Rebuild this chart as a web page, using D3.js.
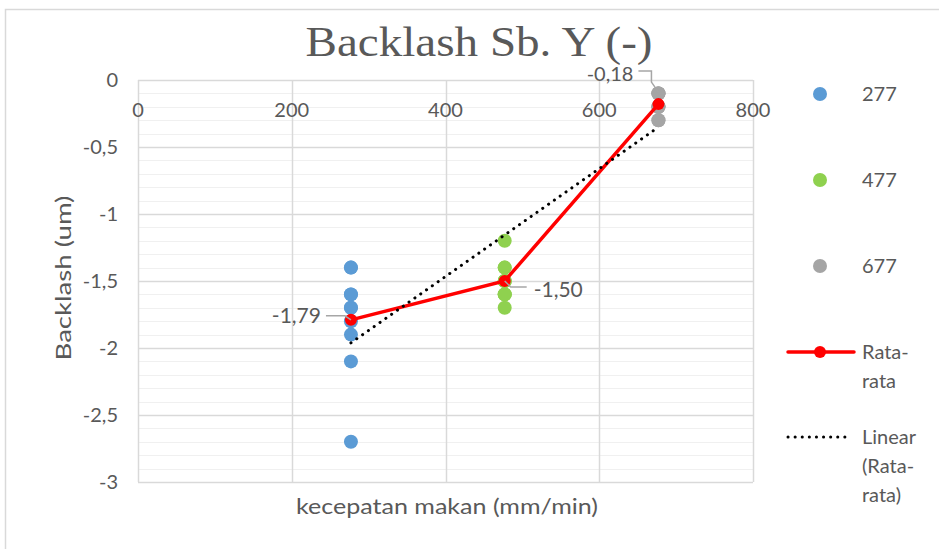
<!DOCTYPE html>
<html>
<head>
<meta charset="utf-8">
<script src="https://cdn.jsdelivr.net/npm/d3@7"></script>
<style>
  html, body { margin: 0; padding: 0; background: #fff; }
  svg { display: block; }
  text { font-family: Lato, "Open Sans", sans-serif; fill: #595959; }
  text.title { font-family: "Liberation Serif", "DejaVu Serif", serif; }
</style>
</head>
<body>
<svg id="chart" width="939" height="549"></svg>
<script>
// Feed rate groups (mm/min) and the measured backlash readings (um) at each
const speeds = [277, 477, 677];
const series277 = [-1.4, -1.4, -1.6, -1.6, -1.7, -1.7, -1.8, -1.9, -2.1, -2.7];
const series477 = [-1.2, -1.4, -1.4, -1.5, -1.5, -1.5, -1.6, -1.6, -1.6, -1.7];
const series677 = [-0.1, -0.1, -0.1, -0.1, -0.2, -0.2, -0.2, -0.2, -0.3, -0.3];
const average = [-1.79, -1.50, -0.18];
const averageLabels = ["-1,79", "-1,50", "-0,18"];
const xTicks = [0, 200, 400, 600, 800];
const yTicks = [0, -0.5, -1, -1.5, -2, -2.5, -3];
const yTickLabels = ["0", "-0,5", "-1", "-1,5", "-2", "-2,5", "-3"];
const seriesNames = ["277", "477", "677"];
const seriesColors = ["#5b9bd5", "#8fd14f", "#a5a5a5"];

const svg = d3.select("#chart");

// Outer chart frame
svg.append("rect").attr("x", 5.5).attr("y", 9.5).attr("width", 960).attr("height", 600)
  .attr("fill", "none").attr("stroke", "#d9d9d9").attr("stroke-width", 1.5);

const x = d3.scaleLinear().domain([0, 800]).range([138, 753]);
const y = d3.scaleLinear().domain([0, -3]).range([80, 482]);

// Minor horizontal gridlines every 0.1
const minor = d3.range(0, 31).map(i => -i / 10);
svg.append("g").selectAll("line").data(minor).join("line")
  .attr("x1", x(0)).attr("x2", x(800))
  .attr("y1", d => Math.round(y(d)) + 0.5).attr("y2", d => Math.round(y(d)) + 0.5)
  .attr("stroke", "#f0f0f0").attr("stroke-width", 1);

// Major gridlines
svg.append("g").selectAll("line").data(yTicks).join("line")
  .attr("x1", x(0)).attr("x2", x(800))
  .attr("y1", d => Math.round(y(d)) + 0.5).attr("y2", d => Math.round(y(d)) + 0.5)
  .attr("stroke", "#d9d9d9").attr("stroke-width", 1.5);
svg.append("g").selectAll("line").data(xTicks).join("line")
  .attr("x1", d => Math.round(x(d)) + 0.5).attr("x2", d => Math.round(x(d)) + 0.5)
  .attr("y1", y(0)).attr("y2", y(-3))
  .attr("stroke", "#d9d9d9").attr("stroke-width", 1.5);

// Axis tick labels
svg.append("g").selectAll("text").data(yTicks).join("text")
  .attr("x", 118).attr("y", d => y(d) + 7)
  .attr("text-anchor", "end").attr("font-size", 20)
  .text((d, i) => yTickLabels[i]);
svg.append("g").selectAll("text").data(xTicks).join("text")
  .attr("x", d => x(d)).attr("y", 117)
  .attr("text-anchor", "middle").attr("font-size", 20)
  .text(d => d);

// Axis titles
svg.append("text").attr("x", 447).attr("y", 514).attr("text-anchor", "middle")
  .attr("font-size", 21).attr("textLength", 302).attr("lengthAdjust", "spacingAndGlyphs")
  .text("kecepatan makan (mm/min)");
svg.append("text").attr("transform", "translate(71,278) rotate(-90)")
  .attr("text-anchor", "middle").attr("font-size", 21)
  .attr("textLength", 165).attr("lengthAdjust", "spacingAndGlyphs")
  .text("Backlash (um)");

// Chart title
svg.append("text").attr("class", "title").attr("x", 479).attr("y", 56).attr("text-anchor", "middle")
  .attr("font-size", 42).attr("textLength", 347).attr("lengthAdjust", "spacingAndGlyphs")
  .text("Backlash Sb. Y (-)");

// Scatter points for each feed rate
const groups = [series277, series477, series677];
groups.forEach((vals, gi) => {
  svg.append("g").selectAll("circle").data(vals).join("circle")
    .attr("cx", x(speeds[gi])).attr("cy", d => y(d))
    .attr("r", 7).attr("fill", seriesColors[gi]);
});

// Linear trend of the averages (least squares)
const mx = d3.mean(speeds), my = d3.mean(average);
const slope = d3.sum(speeds, (s, i) => (s - mx) * (average[i] - my)) /
              d3.sum(speeds, s => (s - mx) ** 2);
const icpt = my - slope * mx;
const trendX = [speeds[0], speeds[speeds.length - 1]];

// Average line
svg.append("path").datum(speeds.map((s, i) => [s, average[i]]))
  .attr("d", d3.line().x(d => x(d[0])).y(d => y(d[1])))
  .attr("fill", "none").attr("stroke", "#ff0000").attr("stroke-width", 3.5);
svg.append("g").selectAll("circle").data(average).join("circle")
  .attr("cx", (d, i) => x(speeds[i])).attr("cy", d => y(d))
  .attr("r", 6).attr("fill", "#ff0000");

svg.append("line")
  .attr("x1", x(trendX[0])).attr("y1", y(slope * trendX[0] + icpt))
  .attr("x2", x(trendX[1])).attr("y2", y(slope * trendX[1] + icpt))
  .attr("stroke", "#000").attr("stroke-width", 3).attr("stroke-dasharray", "0.1 7")
  .attr("stroke-linecap", "round");

// Data labels with leader lines
const lab = svg.append("g");
// 277
lab.append("path").attr("d", `M${x(277) - 25},${y(average[0]) - 4}H${x(277) - 6}L${x(277)},${y(average[0])}`)
  .attr("fill", "none").attr("stroke", "#a6a6a6").attr("stroke-width", 1.5);
lab.append("text").attr("x", x(277) - 30).attr("y", y(average[0]) + 3)
  .attr("text-anchor", "end").attr("font-size", 21).text(averageLabels[0]);
// 477
lab.append("path").attr("d", `M${x(477)},${y(average[1])}L${x(477) + 6},${y(average[1]) + 6}H${x(477) + 22}`)
  .attr("fill", "none").attr("stroke", "#a6a6a6").attr("stroke-width", 1.5);
lab.append("text").attr("x", x(477) + 29).attr("y", y(average[1]) + 16)
  .attr("text-anchor", "start").attr("font-size", 21).text(averageLabels[1]);
// 677
lab.append("path").attr("d", `M${x(677) - 20},${y(average[2]) - 33}H${x(677) - 7}V${y(average[2]) - 22}L${x(677)},${y(average[2]) - 12}`)
  .attr("fill", "none").attr("stroke", "#a6a6a6").attr("stroke-width", 1.5);
lab.append("text").attr("x", x(677) - 25).attr("y", y(average[2]) - 23)
  .attr("text-anchor", "end").attr("font-size", 20).text(averageLabels[2]);

// Legend
const leg = svg.append("g");
const legY = [94, 180, 266];
seriesNames.forEach((n, i) => {
  leg.append("circle").attr("cx", 820).attr("cy", legY[i]).attr("r", 7).attr("fill", seriesColors[i]);
  leg.append("text").attr("x", 862).attr("y", legY[i] + 7).attr("font-size", 20).text(n);
});
leg.append("line").attr("x1", 788).attr("x2", 854).attr("y1", 352).attr("y2", 352)
  .attr("stroke", "#ff0000").attr("stroke-width", 3.5).attr("stroke-linecap", "round");
leg.append("circle").attr("cx", 820).attr("cy", 352).attr("r", 6).attr("fill", "#ff0000");
leg.append("text").attr("x", 862).attr("y", 359).attr("font-size", 20).text("Rata-");
leg.append("text").attr("x", 862).attr("y", 388).attr("font-size", 20).text("rata");
leg.append("line").attr("x1", 788).attr("x2", 849).attr("y1", 437).attr("y2", 437)
  .attr("stroke", "#000").attr("stroke-width", 3).attr("stroke-dasharray", "0.1 7")
  .attr("stroke-linecap", "round");
leg.append("text").attr("x", 862).attr("y", 444).attr("font-size", 20).text("Linear");
leg.append("text").attr("x", 862).attr("y", 473).attr("font-size", 20).text("(Rata-");
leg.append("text").attr("x", 862).attr("y", 502).attr("font-size", 20).text("rata)");
</script>
</body>
</html>
